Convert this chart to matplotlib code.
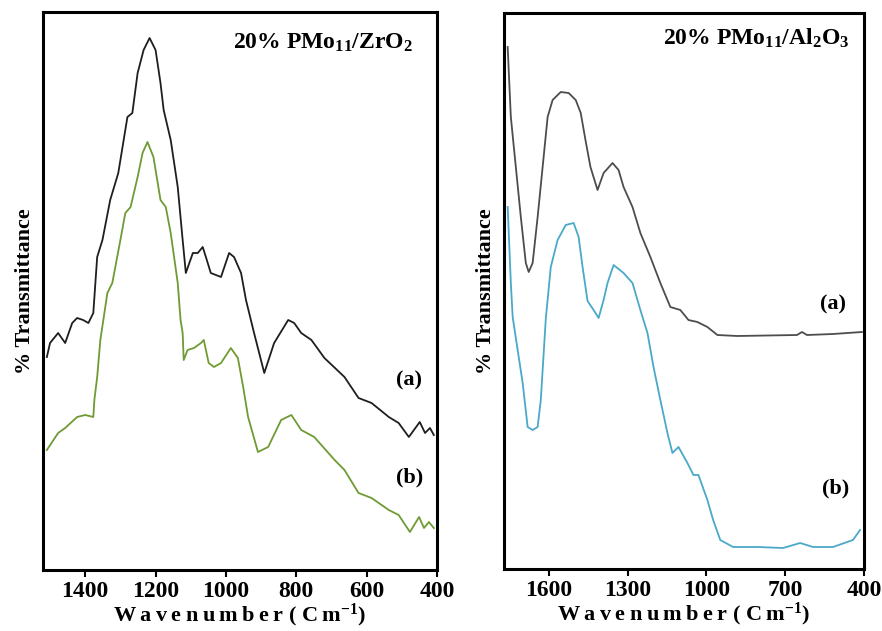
import matplotlib
matplotlib.use('Agg')
import matplotlib.pyplot as plt
import numpy as np

plt.rcParams['font.family'] = 'Liberation Serif'
plt.rcParams['font.weight'] = 'bold'
plt.rcParams['mathtext.default'] = 'regular'

# left panel: 20% PMo11/ZrO2
zr_wn_a = [1509, 1500, 1477, 1457, 1437, 1423, 1406, 1391, 1377, 1366, 1351, 1329, 1306, 1280,
           1266, 1251, 1234, 1217, 1200, 1186, 1177, 1157, 1137, 1123, 1114, 1094, 1080, 1066,
           1057, 1043, 1014, 991, 977, 957, 943, 920, 891, 863, 823, 806, 786, 757, 720, 663,
           623, 586, 537, 509, 480, 449, 434, 420, 409]
zr_t_a = [213, 227, 237, 227, 247, 252, 250, 247, 257, 313, 330, 370, 397, 453,
          457, 497, 520, 532, 520, 487, 460, 430, 383, 330, 297, 317, 317, 323,
          313, 297, 293, 317, 313, 297, 270, 237, 197, 227, 250, 247, 237, 230, 212, 193,
          172, 167, 153, 147, 133, 148, 137, 142, 135]

zr_wn_b = [1509, 1477, 1457, 1423, 1400, 1377, 1374, 1366, 1357, 1337, 1323, 1300, 1286, 1271,
           1251, 1237, 1223, 1206, 1186, 1171, 1157, 1137, 1129, 1123, 1120, 1109, 1091, 1071,
           1063, 1049, 1034, 1014, 986, 966, 951, 937, 909, 880, 843, 814, 786, 749, 691, 663,
           623, 586, 537, 509, 477, 451, 437, 423, 409]
zr_t_b = [120, 137, 142, 153, 155, 153, 170, 193, 230, 277, 287, 330, 357, 363,
          393, 417, 428, 413, 370, 363, 337, 287, 250, 237, 210, 220, 222, 227,
          230, 207, 203, 207, 222, 212, 183, 153, 118, 123, 150, 155, 140, 133, 110, 100,
          77, 72, 60, 55, 38, 53, 42, 48, 42]

# right panel: 20% PMo11/Al2O3
al_wn_a = [1756, 1744, 1725, 1706, 1687, 1676, 1661, 1642, 1623, 1604, 1585, 1554, 1524, 1497,
           1478, 1460, 1441, 1414, 1391, 1357, 1334, 1315, 1281, 1251, 1213, 1175, 1137, 1099,
           1068, 1034, 996, 958, 882, 655, 636, 617, 518, 408]
al_t_a = [522, 452, 402, 352, 306, 297, 306, 352, 402, 452, 469, 477, 476, 469,
          456, 429, 402, 379, 396, 406, 399, 382, 362, 336, 312, 286, 262, 259,
          249, 247, 242, 234, 233, 234, 237, 234, 235, 237]

al_wn_b = [1756, 1744, 1737, 1718, 1699, 1680, 1661, 1642, 1630, 1611, 1592, 1566, 1535, 1505,
           1486, 1471, 1452, 1429, 1410, 1391, 1376, 1353, 1315, 1281, 1251, 1224, 1201, 1175,
           1148, 1129, 1106, 1072, 1049, 1030, 996, 974, 947, 898, 806, 708, 643, 594, 518,
           442, 415]
al_t_b = [362, 286, 252, 219, 186, 142, 139, 142, 169, 250, 302, 329, 344, 346,
          332, 302, 268, 259, 251, 269, 286, 304, 296, 286, 259, 236, 202, 169,
          136, 116, 122, 106, 94, 94, 69, 49, 29, 22, 22, 21, 26, 22, 22,
          29, 39]

fig = plt.figure(figsize=(8.82, 6.31), dpi=100)
ax1 = fig.add_axes([43/882, 61/631, 394/882, 558/631])
ax2 = fig.add_axes([504/882, 62/631, 360/882, 556/631])

ax1.plot(zr_wn_a, zr_t_a, color='#1e1e1e', lw=1.3)
ax1.plot(zr_wn_b, zr_t_b, color='#6f9a34', lw=1.3)
ax1.set_xlim(1520, 400)
ax1.set_ylim(0, 558)
ax1.set_xticks([1400, 1200, 1000, 800, 600, 400])
ax1.text(0.71, 0.945, '20% PMo$_{11}$/ZrO$_2$', transform=ax1.transAxes, fontsize=17,
         ha='center', va='center', fontweight='bold')
ax1.text(0.93, 0.34, '(a)', transform=ax1.transAxes, fontsize=16, ha='center', va='center')
ax1.text(0.93, 0.165, '(b)', transform=ax1.transAxes, fontsize=16, ha='center', va='center')

ax2.plot(al_wn_a, al_t_a, color='#4d4d4d', lw=1.3)
ax2.plot(al_wn_b, al_t_b, color='#4aa8c8', lw=1.3)
ax2.set_xlim(1770, 400)
ax2.set_ylim(0, 556)
ax2.set_xticks([1600, 1300, 1000, 700, 400])
ax2.text(0.7, 0.955, '20% PMo$_{11}$/Al$_2$O$_3$', transform=ax2.transAxes, fontsize=17,
         ha='center', va='center', fontweight='bold')
ax2.text(0.915, 0.475, '(a)', transform=ax2.transAxes, fontsize=16, ha='center', va='center')
ax2.text(0.92, 0.145, '(b)', transform=ax2.transAxes, fontsize=16, ha='center', va='center')

xlab = '\u2009'.join('Wavenumber') + ' ( C\u2009m$^{-1}$)'
for ax in (ax1, ax2):
    ax.set_yticks([])
    for s in ax.spines.values():
        s.set_linewidth(2.2)
    ax.tick_params(axis='x', direction='out', length=5, width=1.5, labelsize=17, pad=3)
    for lbl in ax.get_xticklabels():
        lbl.set_fontweight('bold')
    ax.set_xlabel(xlab, fontsize=16, fontweight='bold', labelpad=0)
    ax.set_ylabel('% Transmittance', fontsize=16, fontweight='bold', labelpad=6)

fig.savefig('out.png', dpi=100)
